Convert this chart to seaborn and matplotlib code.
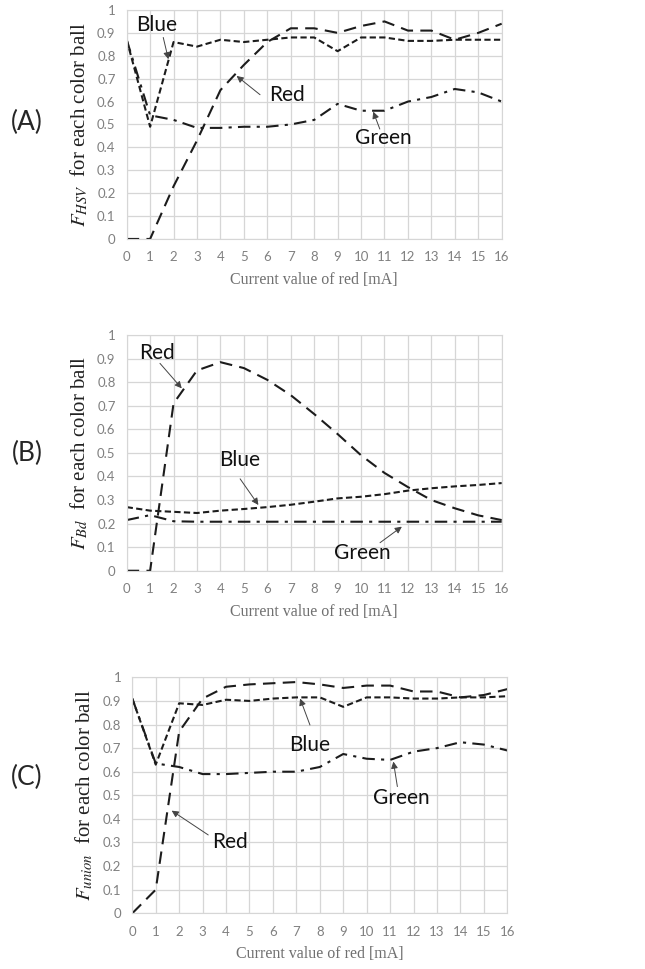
import numpy as np
import pandas as pd
import seaborn as sns
import matplotlib.pyplot as plt

# ---- data ----
current = list(range(17))

hsv_red = [0, 0, 0.23, 0.43, 0.65, 0.76, 0.86, 0.92, 0.92, 0.90, 0.93, 0.95, 0.91, 0.91, 0.87, 0.90, 0.94]
hsv_blue = [0.87, 0.49, 0.86, 0.84, 0.87, 0.86, 0.87, 0.88, 0.88, 0.82, 0.88, 0.88, 0.865, 0.865, 0.87, 0.87, 0.87]
hsv_green = [0.87, 0.54, 0.52, 0.485, 0.485, 0.49, 0.49, 0.50, 0.52, 0.59, 0.56, 0.56, 0.60, 0.62, 0.655, 0.64, 0.60]

bd_red = [0, 0, 0.71, 0.85, 0.885, 0.86, 0.81, 0.745, 0.665, 0.58, 0.49, 0.415, 0.355, 0.30, 0.265, 0.235, 0.215]
bd_blue = [0.27, 0.255, 0.25, 0.245, 0.255, 0.262, 0.27, 0.28, 0.293, 0.307, 0.314, 0.325, 0.34, 0.35, 0.358, 0.364, 0.372]
bd_green = [0.215, 0.236, 0.21, 0.208, 0.208, 0.208, 0.208, 0.208, 0.208, 0.208, 0.208, 0.208, 0.208, 0.208, 0.208, 0.208, 0.208]

union_red = [0, 0.1, 0.77, 0.91, 0.96, 0.97, 0.975, 0.98, 0.97, 0.955, 0.965, 0.965, 0.94, 0.94, 0.915, 0.925, 0.95]
union_blue = [0.91, 0.63, 0.89, 0.883, 0.905, 0.90, 0.91, 0.915, 0.915, 0.875, 0.915, 0.915, 0.91, 0.91, 0.915, 0.915, 0.92]
union_green = [0.91, 0.635, 0.62, 0.59, 0.59, 0.595, 0.60, 0.60, 0.62, 0.675, 0.655, 0.65, 0.685, 0.70, 0.725, 0.715, 0.69]

ytick_labels = ["0", "0.1", "0.2", "0.3", "0.4", "0.5", "0.6", "0.7", "0.8", "0.9", "1"]

# label text, text centre (x, y), arrow tail (x, y), arrow tip (x, y) in data units
notes_a = [("Blue", 1.28, 0.935, 1.56, 0.88, 1.78, 0.785),
           ("Red", 6.85, 0.63, 5.69, 0.63, 4.69, 0.712),
           ("Green", 10.95, 0.44, 10.8, 0.48, 10.52, 0.556)]
notes_b = [("Red", 1.29, 0.922, 1.42, 0.88, 2.35, 0.774),
           ("Blue", 4.84, 0.47, 4.84, 0.39, 5.62, 0.279),
           ("Green", 10.07, 0.074, 10.81, 0.119, 11.74, 0.187)]
notes_c = [("Blue", 7.55, 0.713, 7.58, 0.798, 7.16, 0.91),
           ("Green", 11.49, 0.487, 11.31, 0.537, 11.14, 0.643),
           ("Red", 4.17, 0.304, 3.24, 0.332, 1.68, 0.435)]

sns.set_style("white")
plt.rcParams["font.family"] = ["Lato", "DejaVu Sans"]
plt.rcParams["mathtext.fontset"] = "stix"

dash_map = {"Red": (6, 3.5), "Blue": (3, 1.6), "Green": (6, 3, 1.5, 3)}


def make_frame(red, blue, green):
    return pd.DataFrame({
        "current": current * 3,
        "F": red + blue + green,
        "ball": ["Red"] * 17 + ["Blue"] * 17 + ["Green"] * 17,
    })


def draw_panel(ax, df, ylabel, notes, tag, tag_y):
    sns.lineplot(data=df, x="current", y="F", style="ball", dashes=dash_map,
                 color="#1c1c1c", linewidth=1.5, legend=False, ax=ax)
    ax.set_xlim(0, 16)
    ax.set_ylim(0, 1)
    ax.set_xticks(current)
    ax.set_xticklabels([str(c) for c in current])
    ax.set_yticks(np.linspace(0, 1, 11))
    ax.set_yticklabels(ytick_labels)
    ax.grid(True, color="#d6d6d6", linewidth=0.9)
    for s in ax.spines.values():
        s.set_color("#d6d6d6")
    ax.tick_params(length=0, labelsize=9.5, labelcolor="#808080")
    ax.tick_params(axis="y", pad=8)
    ax.tick_params(axis="x", pad=9)
    ax.set_xlabel("Current value of red [mA]", family="Liberation Serif",
                  fontsize=11.5, color="#707070", labelpad=6)
    ax.set_ylabel(ylabel, family="Liberation Serif", fontsize=15,
                  color="#222222", labelpad=5)
    for txt, tx, ty, x0, y0, x1, y1 in notes:
        ax.text(tx, ty, txt, ha="center", va="center", fontsize=15,
                color="#111111")
        ax.annotate("", xy=(x1, y1), xytext=(x0, y0),
                    arrowprops=dict(arrowstyle="-|>", color="#444444",
                                    lw=0.7, mutation_scale=10,
                                    shrinkA=0, shrinkB=0))
    ax.figure.text(0.042, tag_y, tag, fontsize=19, ha="center", va="center")


fig = plt.figure(figsize=(6.45, 9.69), dpi=100)
ax1 = fig.add_axes([0.1964, 0.7534, 0.5814, 0.2363])
ax2 = fig.add_axes([0.1964, 0.4110, 0.5814, 0.2432])
ax3 = fig.add_axes([0.2051, 0.0575, 0.5814, 0.2435])

draw_panel(ax1, make_frame(hsv_red, hsv_blue, hsv_green),
           r"$F_{HSV}$  for each color ball", notes_a, "(A)", 1 - 122 / 969)
draw_panel(ax2, make_frame(bd_red, bd_blue, bd_green),
           r"$F_{Bd}$  for each color ball", notes_b, "(B)", 1 - 453 / 969)
draw_panel(ax3, make_frame(union_red, union_blue, union_green),
           r"$F_{union}$  for each color ball", notes_c, "(C)", 1 - 777 / 969)

fig.savefig("out.png", dpi=100)
